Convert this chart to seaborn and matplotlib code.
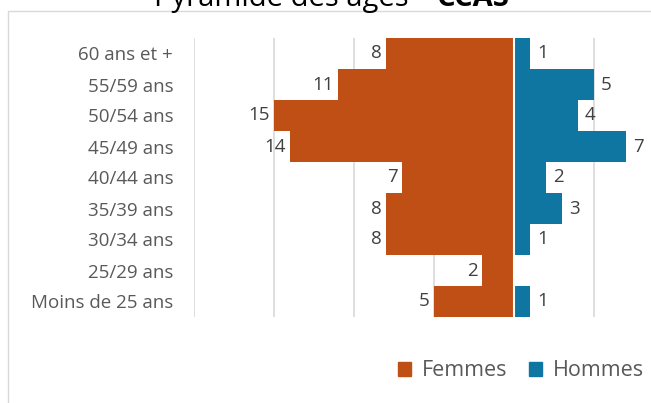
import seaborn as sns
import matplotlib.pyplot as plt
import pandas as pd
from matplotlib.patches import Patch, Rectangle

# data
ages = ["60 ans et +", "55/59 ans", "50/54 ans", "45/49 ans", "40/44 ans",
        "35/39 ans", "30/34 ans", "25/29 ans", "Moins de 25 ans"]
femmes = [8, 11, 15, 14, 7, 8, 8, 2, 5]
hommes = [1, 5, 4, 7, 2, 3, 1, 0, 1]

df = pd.DataFrame({
    "age": ages * 2,
    "sexe": ["Femmes"] * len(ages) + ["Hommes"] * len(ages),
    "effectif": [-v for v in femmes] + hommes,
})

couleurs = {"Femmes": "#C04F15", "Hommes": "#0E76A0"}

sns.set_theme(style="white")
plt.rcParams['font.family'] = ['Open Sans', 'DejaVu Sans']

fig = plt.figure(figsize=(6.51, 4.03), dpi=100)
W, H = 651, 403
ax = fig.add_axes([194 / W, 1 - 317 / H, (W - 194) / W, (317 - 38) / H])

sns.barplot(data=df, y="age", x="effectif", hue="sexe", palette=couleurs,
            dodge=False, width=1, orient="h", ax=ax, legend=False,
            saturation=1, linewidth=0)
ax.axvline(0, color="white", lw=1.5)

ax.set_xlim(-20, (W - 194) / 16 - 20)
ax.set_xticks(range(-20, 10, 5))
ax.set_xticklabels([])
ax.xaxis.grid(True, color="#D9D9D9", lw=1.2)
ax.set_axisbelow(True)
ax.set_xlabel("")
ax.set_ylabel("")
ax.tick_params(axis="both", length=0)
ax.tick_params(axis="y", pad=15, labelsize=13.5, labelcolor="#595959")
sns.despine(ax=ax, left=True, bottom=True)

ax.bar_label(ax.containers[0], labels=[str(v) for v in femmes],
             padding=3, fontsize=13.5, color="#404040")
ax.bar_label(ax.containers[1], labels=[str(v) if v else "" for v in hommes],
             padding=5, fontsize=13.5, color="#404040")

# titre (coupe en haut)
fig.text(431 / W, 1 - 6 / H, "Pyramide des âges –", ha="right", va="baseline",
         fontsize=21, color="#000000")
fig.text(436 / W, 1 - 6 / H, "CCAS", ha="left", va="baseline",
         fontsize=21, fontweight="bold", color="#000000")

# cadre
fig.patches.append(Rectangle((8 / W, -0.05), 1.2, 1 - 11 / H + 0.05,
                             transform=fig.transFigure, fill=False,
                             edgecolor="#D9D9D9", lw=1))

handles = [Patch(color=couleurs[k]) for k in ["Femmes", "Hommes"]]
fig.legend(handles, ["Femmes", "Hommes"], loc="center",
           bbox_to_anchor=(521 / W, 1 - 371 / H), ncol=2, frameon=False,
           fontsize=15.5, handlelength=0.6, handleheight=0.6, handletextpad=0.5,
           columnspacing=1.0, labelcolor="#595959")

fig.savefig("out.png", dpi=100)
